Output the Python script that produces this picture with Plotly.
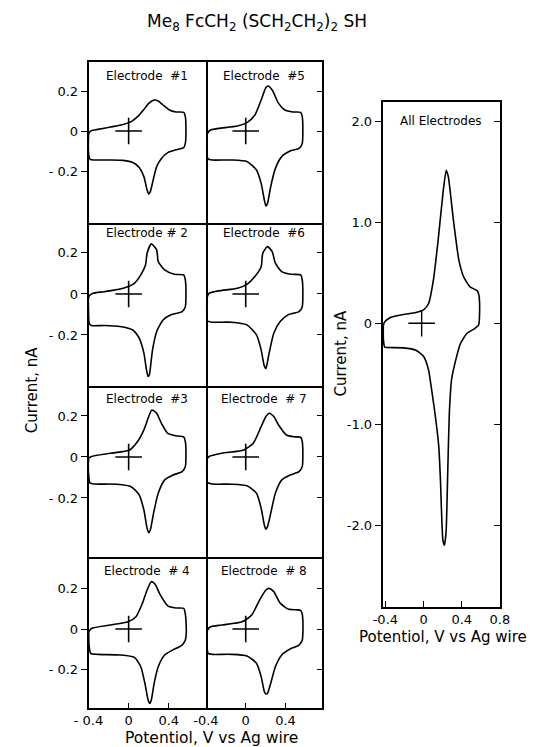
import plotly.graph_objects as go

# ---------------- data (potential V vs Ag wire, current nA) ----------------
v1 = [-0.397, -0.371, -0.308, -0.181, -0.054, 0.025, 0.089, 0.152, 0.200, 0.254, 0.295, 0.343, 0.406, 0.470, 0.549,
      0.565, 0.571, 0.565, 0.549, 0.486, 0.390, 0.327, 0.279, 0.248, 0.216, 0.200, 0.184, 0.152, 0.105, 0.041,
      -0.054, -0.181, -0.340, -0.384, -0.397, -0.400, -0.397]
i1 = [-0.012, 0.002, 0.008, 0.020, 0.033, 0.047, 0.072, 0.108, 0.138, 0.155, 0.150, 0.130, 0.105, 0.095, 0.093,
      0.072, 0.005, -0.062, -0.083, -0.092, -0.108, -0.137, -0.178, -0.237, -0.303, -0.315, -0.295, -0.228, -0.182, -0.158,
      -0.147, -0.145, -0.145, -0.142, -0.120, -0.028, -0.012]

v2 = [-0.397, -0.356, -0.244, -0.054, 0.057, 0.121, 0.168, 0.184, 0.226, 0.279, 0.295, 0.359, 0.454, 0.549, 0.565,
      0.571, 0.565, 0.533, 0.422, 0.343, 0.279, 0.238, 0.206, 0.194, 0.178, 0.152, 0.105, 0.041, -0.086, -0.244,
      -0.371, -0.393, -0.400, -0.397]
i2 = [-0.013, 0.003, 0.011, 0.028, 0.052, 0.093, 0.141, 0.198, 0.244, 0.215, 0.158, 0.117, 0.096, 0.093, 0.068,
      0.003, -0.062, -0.086, -0.102, -0.127, -0.184, -0.273, -0.395, -0.403, -0.371, -0.289, -0.216, -0.176, -0.159, -0.154,
      -0.154, -0.143, -0.078, -0.013]

v3 = [-0.397, -0.371, -0.181, 0.010, 0.089, 0.152, 0.200, 0.232, 0.279, 0.327, 0.390, 0.486, 0.549, 0.565, 0.571,
      0.565, 0.533, 0.438, 0.359, 0.295, 0.248, 0.216, 0.200, 0.184, 0.152, 0.105, 0.025, -0.117, -0.340, -0.384,
      -0.397, -0.400, -0.397]
i3 = [-0.006, 0.002, 0.018, 0.034, 0.075, 0.132, 0.197, 0.229, 0.213, 0.164, 0.115, 0.102, 0.098, 0.075, 0.010,
      -0.047, -0.072, -0.089, -0.112, -0.177, -0.275, -0.356, -0.369, -0.348, -0.259, -0.185, -0.145, -0.133, -0.132, -0.128,
      -0.096, -0.015, -0.006]

v4 = [-0.393, -0.371, -0.181, -0.006, 0.073, 0.137, 0.184, 0.226, 0.264, 0.311, 0.390, 0.470, 0.549, 0.565, 0.571,
      0.574, 0.565, 0.533, 0.438, 0.359, 0.295, 0.254, 0.226, 0.210, 0.194, 0.162, 0.121, 0.057, -0.086, -0.308,
      -0.378, -0.393, -0.397, -0.393]
i4 = [-0.010, 0.003, 0.020, 0.036, 0.061, 0.127, 0.193, 0.234, 0.221, 0.173, 0.115, 0.104, 0.102, 0.074, 0.044,
      -0.021, -0.054, -0.079, -0.104, -0.128, -0.186, -0.268, -0.350, -0.367, -0.350, -0.268, -0.186, -0.140, -0.128, -0.125,
      -0.120, -0.087, -0.013, -0.010]

v5 = [-0.391, -0.384, -0.353, -0.273, -0.083, 0.012, 0.092, 0.155, 0.203, 0.225, 0.266, 0.330, 0.393, 0.473, 0.552,
      0.568, 0.574, 0.568, 0.536, 0.457, 0.362, 0.298, 0.251, 0.219, 0.203, 0.187, 0.155, 0.108, 0.012, -0.146,
      -0.337, -0.378, -0.391, -0.391]
i5 = [-0.045, -0.012, 0.005, 0.013, 0.025, 0.042, 0.080, 0.155, 0.218, 0.225, 0.205, 0.138, 0.105, 0.095, 0.093,
      0.072, 0.005, -0.062, -0.087, -0.098, -0.128, -0.187, -0.278, -0.362, -0.375, -0.345, -0.262, -0.195, -0.153, -0.145,
      -0.145, -0.140, -0.112, -0.045]

v6 = [-0.394, -0.368, -0.273, -0.083, 0.012, 0.092, 0.155, 0.171, 0.219, 0.266, 0.298, 0.362, 0.457, 0.552, 0.568,
      0.574, 0.568, 0.536, 0.425, 0.346, 0.282, 0.235, 0.203, 0.187, 0.155, 0.108, 0.012, -0.146, -0.337, -0.384,
      -0.394, -0.394]
i6 = [-0.029, 0.003, 0.015, 0.028, 0.047, 0.085, 0.133, 0.198, 0.231, 0.206, 0.150, 0.109, 0.096, 0.093, 0.068,
      0.003, -0.062, -0.086, -0.102, -0.135, -0.192, -0.289, -0.363, -0.352, -0.273, -0.200, -0.151, -0.138, -0.138, -0.132,
      -0.094, -0.029]

v7 = [-0.394, -0.368, -0.241, -0.019, 0.076, 0.155, 0.203, 0.235, 0.282, 0.330, 0.409, 0.489, 0.552, 0.568, 0.574,
      0.568, 0.536, 0.441, 0.362, 0.298, 0.251, 0.219, 0.203, 0.187, 0.155, 0.108, 0.012, -0.146, -0.337, -0.384,
      -0.394, -0.394]
i7 = [-0.015, 0.002, 0.018, 0.034, 0.067, 0.148, 0.197, 0.213, 0.197, 0.156, 0.107, 0.098, 0.096, 0.075, 0.010,
      -0.047, -0.072, -0.089, -0.112, -0.177, -0.275, -0.340, -0.353, -0.332, -0.250, -0.177, -0.141, -0.133, -0.132, -0.125,
      -0.080, -0.015]

v8 = [-0.391, -0.384, -0.353, -0.241, -0.035, 0.060, 0.139, 0.203, 0.235, 0.282, 0.346, 0.425, 0.505, 0.552, 0.568,
      0.574, 0.574, 0.568, 0.536, 0.441, 0.362, 0.298, 0.251, 0.219, 0.203, 0.187, 0.155, 0.108, 0.012, -0.146,
      -0.337, -0.378, -0.391, -0.391]
i8 = [-0.040, -0.005, 0.011, 0.020, 0.036, 0.069, 0.143, 0.193, 0.201, 0.185, 0.128, 0.099, 0.095, 0.092, 0.074,
      0.044, -0.021, -0.054, -0.079, -0.100, -0.128, -0.186, -0.268, -0.317, -0.321, -0.309, -0.235, -0.169, -0.133, -0.125,
      -0.125, -0.120, -0.071, -0.040]

v_all = [-0.420, -0.407, -0.347, -0.213, -0.080, 0.003, 0.053, 0.103, 0.153, 0.203, 0.237, 0.260, 0.313, 0.370, 0.420,
         0.487, 0.563, 0.580, 0.587, 0.577, 0.537, 0.453, 0.387, 0.337, 0.293, 0.270, 0.253, 0.237, 0.220, 0.203,
         0.177, 0.160, 0.120, 0.070, 0.053, 0.003, -0.080, -0.213, -0.380, -0.407, -0.420, -0.420]
i_all = [-0.020, 0.013, 0.056, 0.086, 0.106, 0.135, 0.195, 0.426, 0.822, 1.284, 1.515, 1.449, 1.020, 0.624, 0.459,
         0.360, 0.320, 0.277, 0.096, -0.020, -0.053, -0.102, -0.201, -0.366, -0.564, -0.894, -1.488, -2.050, -2.198, -2.149,
         -1.554, -1.225, -0.894, -0.564, -0.465, -0.333, -0.267, -0.244, -0.241, -0.235, -0.168, -0.020]

electrode_v = [v1, v2, v3, v4, v5, v6, v7, v8]
electrode_i = [i1, i2, i3, i4, i5, i6, i7, i8]
electrode_names = ["Electrode\u00a0\u00a0#1", "Electrode\u00a0#\u00a02", "Electrode\u00a0\u00a0#3", "Electrode\u00a0\u00a0#\u00a04",
                   "Electrode\u00a0\u00a0#5", "Electrode\u00a0\u00a0#6", "Electrode\u00a0\u00a0#\u00a07", "Electrode\u00a0\u00a0#\u00a08"]

title_text = "Me<sub>8</sub> FcCH<sub>2</sub> (SCH<sub>2</sub>CH<sub>2</sub>)<sub>2</sub> SH"
y_title = "Current, nA"
x_title = "Potentiol, V vs Ag wire"

# ---------------- layout geometry ----------------
W, H = 550, 747
FONT = "DejaVu Sans"
def fx(p): return p / W
def fy(p): return 1 - p / H

col_px = [(77, 200), (200, 322)]
row_px = [(62, 223), (223, 386), (386, 557), (557, 708)]
row_ranges = [[-0.46, 0.345], [-0.449, 0.346], [-0.488, 0.346], [-0.39, 0.356]]
label_shift = [-14, -10, -13, -14]
LW = 1.5

fig = go.Figure()
layout = dict(width=W, height=H, margin=dict(l=0, r=0, t=0, b=0),
              paper_bgcolor="white", plot_bgcolor="white", showlegend=False,
              font=dict(family=FONT, color="black", size=13))
annotations = []

for k in range(8):
    n = k + 1
    col = 0 if k < 4 else 1
    row = k % 4
    xa = "x" if n == 1 else f"x{n}"
    ya = "y" if n == 1 else f"y{n}"
    fig.add_trace(go.Scatter(x=electrode_v[k], y=electrode_i[k], mode="lines",
                             line=dict(color="black", width=1.6, shape="spline", smoothing=0.6),
                             xaxis=xa, yaxis=ya, hoverinfo="skip"))
    fig.add_trace(go.Scatter(x=[0], y=[0], mode="markers",
                             marker=dict(symbol="cross-thin", size=19, line=dict(color="black", width=1.6)),
                             xaxis=xa, yaxis=ya, hoverinfo="skip"))
    # bottom line always; top line only for first row (avoid doubled borders)
    xax = dict(domain=[fx(col_px[col][0]), fx(col_px[col][1])], range=[-0.4, 0.77], anchor=ya,
               showline=True, mirror=(row == 0), linecolor="black", linewidth=LW,
               showgrid=False, zeroline=False)
    if row == 3:
        xax.update(ticks="inside", ticklen=5, tickwidth=1.2, tickcolor="black",
                   tickvals=[-0.4, 0, 0.4],
                   ticktext=["- 0.4", "0", "0.4"] if col == 0 else ["-0.4", "0", "0.4"],
                   tickfont=dict(size=13, family=FONT))
    else:
        xax.update(ticks="", showticklabels=False)
    yax = dict(domain=[fy(row_px[row][1]), fy(row_px[row][0])], range=row_ranges[row], anchor=xa,
               showline=True, linecolor="black", linewidth=LW,
               showgrid=False, zeroline=False, tickvals=[-0.2, 0, 0.2], tickwidth=1.2, tickcolor="black")
    if col == 0:
        yax.update(side="left", mirror=True, ticks="outside", ticklen=6, ticktext=["- 0.2", "0", "0.2"],
                   tickfont=dict(size=13, family=FONT))
    else:
        yax.update(side="right", mirror=False, ticks="inside", ticklen=6, showticklabels=False)
    layout["xaxis" if n == 1 else f"xaxis{n}"] = xax
    layout["yaxis" if n == 1 else f"yaxis{n}"] = yax
    annotations.append(dict(text=electrode_names[k], xref=f"{xa} domain", yref=f"{ya} domain",
                            x=0.5, y=1, yanchor="middle", yshift=label_shift[row], showarrow=False,
                            font=dict(size=12, family=FONT)))

# All electrodes panel
fig.add_trace(go.Scatter(x=v_all, y=i_all, mode="lines",
                         line=dict(color="black", width=1.6, shape="spline", smoothing=0.5),
                         xaxis="x9", yaxis="y9", hoverinfo="skip"))
fig.add_trace(go.Scatter(x=[-0.02], y=[0], mode="markers",
                         marker=dict(symbol="cross-thin", size=19, line=dict(color="black", width=1.4)),
                         xaxis="x9", yaxis="y9", hoverinfo="skip"))
fig.add_trace(go.Scatter(x=[0], y=[0], mode="markers", marker=dict(opacity=0),
                         xaxis="x9", yaxis="y10", hoverinfo="skip"))
right_rng = [-2.81, 2.19]
layout["xaxis9"] = dict(domain=[fx(385), fx(508)], range=[-0.43, 0.8], anchor="y9",
                        showline=True, mirror=True, linecolor="black", linewidth=LW,
                        showgrid=False, zeroline=False, ticks="inside", ticklen=6, tickwidth=1.2,
                        tickcolor="black", tickvals=[-0.4, 0, 0.4, 0.8],
                        ticktext=["-0.4", "0", "0.4", "0.8"], tickfont=dict(size=13, family=FONT))
layout["yaxis9"] = dict(domain=[fy(607), fy(102)], range=right_rng, anchor="x9",
                        showline=True, mirror=True, linecolor="black", linewidth=LW,
                        showgrid=False, zeroline=False, ticks="outside", ticklen=6, tickwidth=1.2,
                        tickcolor="black", tickvals=[-2, -1, 0, 1, 2],
                        ticktext=["-2.0", "-1.0", "0", "1.0", "2.0"], tickfont=dict(size=13, family=FONT))
layout["yaxis10"] = dict(overlaying="y9", anchor="x9", side="right", range=right_rng,
                         showline=False, showgrid=False, zeroline=False, ticks="inside", ticklen=6,
                         tickwidth=1.2, tickcolor="black", tickvals=[-2, -1, 0, 1, 2], showticklabels=False)
annotations.append(dict(text="All Electrodes", xref="x9 domain", yref="paper", x=0.5, y=fy(121),
                        yanchor="middle", showarrow=False, font=dict(size=12, family=FONT)))

# titles
annotations += [
    dict(text=title_text, xref="paper", yref="paper", x=fx(253), y=fy(22), yanchor="middle",
         showarrow=False, font=dict(size=17, family=FONT)),
    dict(text=y_title, xref="paper", yref="paper", x=fx(18), y=fy(390), textangle=-90,
         xanchor="center", yanchor="middle", showarrow=False, font=dict(size=15, family=FONT)),
    dict(text=x_title, xref="paper", yref="paper", x=fx(206), y=fy(738), xanchor="center",
         yanchor="middle", showarrow=False, font=dict(size=15.5, family=FONT)),
    dict(text=y_title, xref="paper", yref="paper", x=fx(342), y=fy(353), textangle=-90,
         xanchor="center", yanchor="middle", showarrow=False, font=dict(size=15, family=FONT)),
    dict(text=x_title, xref="paper", yref="paper", x=fx(448), y=fy(637), xanchor="center",
         yanchor="middle", showarrow=False, font=dict(size=15, family=FONT)),
]
layout["annotations"] = annotations
fig.update_layout(**layout)
fig.write_html("out.html")
